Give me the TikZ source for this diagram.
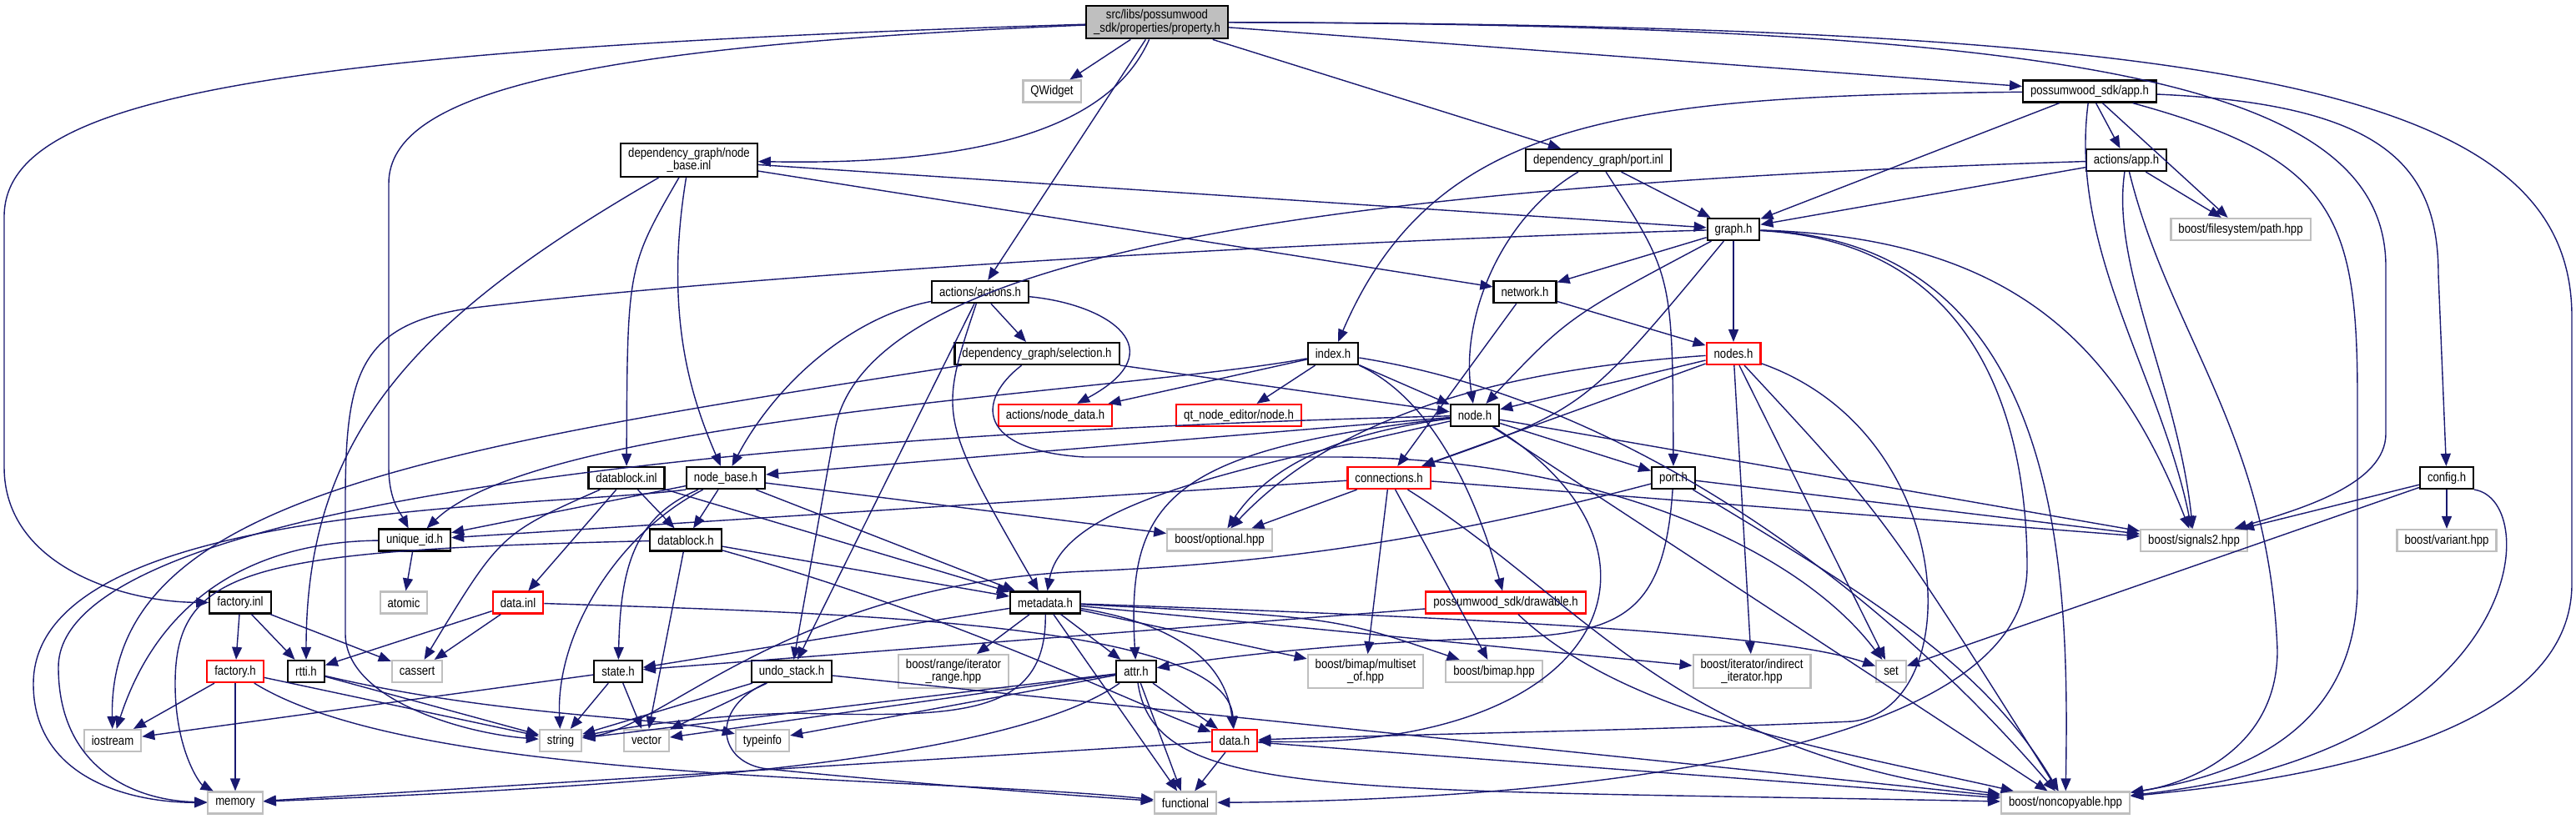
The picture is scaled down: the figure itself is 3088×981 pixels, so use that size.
\documentclass[tikz,border=0pt]{standalone}
\usepackage{fontspec}
\newfontfamily\dxfont[FakeStretch=0.85]{Liberation Sans}
\usetikzlibrary{arrows.meta}
\definecolor{dxBlue}{HTML}{191970}
\definecolor{dxGray}{HTML}{BFBFBF}
\definecolor{dxRed}{HTML}{FF0000}

\begin{document}
\begin{tikzpicture}[x=0.01cm, y=0.01cm,
    hdr/.style={draw=black, line width=0.022cm, fill=white, minimum height=0.26cm,
      inner xsep=0.09cm, inner ysep=0.05cm, align=center,
      font={\dxfont\fontsize{4.4pt}{4.3pt}\selectfont}},
    sys/.style={hdr, draw=dxGray},
    cut/.style={hdr, draw=dxRed},
    rootnode/.style={hdr, fill=dxGray},
    dep/.style={draw=dxBlue, line width=0.014cm, -{Triangle[length=0.15cm, width=0.12cm]}}]
  \useasboundingbox (0,0) rectangle (3088,-981);

  % headers, top to bottom
  \node[rootnode] (property) at (1387,-26.5) {src/libs/possumwood\\\_sdk/properties/property.h};
  \node[sys] (qwidget) at (1261,-109.5) {QWidget};
  \node[hdr] (app) at (2505,-109.5) {possumwood\_sdk/app.h};
  \node[hdr] (nbinl) at (826,-192) {dependency\_graph/node\\\_base.inl};
  \node[hdr] (portinl) at (1916,-192) {dependency\_graph/port.inl};
  \node[hdr] (actapp) at (2549,-192) {actions/app.h};
  \node[hdr] (graph) at (2078,-275) {graph.h};
  \node[sys] (fspath) at (2686,-275) {boost/filesystem/path.hpp};
  \node[hdr] (actions) at (1175,-350) {actions/actions.h};
  \node[hdr] (network) at (1828,-350) {network.h};
  \node[hdr] (selection) at (1243,-424) {dependency\_graph/selection.h};
  \node[hdr] (index) at (1598,-424) {index.h};
  \node[cut] (nodes) at (2078,-424) {nodes.h};
  \node[cut] (nodedata) at (1265,-498) {actions/node\_data.h};
  \node[cut] (qtnode) at (1485,-498) {qt\_node\_editor/node.h};
  \node[hdr] (node) at (1768,-498) {node.h};
  \node[hdr] (dbinl) at (751,-573) {datablock.inl};
  \node[hdr] (nodebase) at (870,-573) {node\_base.h};
  \node[cut] (connections) at (1665,-573) {connections.h};
  \node[hdr] (port) at (2006,-573) {port.h};
  \node[hdr] (config) at (2933,-573) {config.h};
  \node[hdr] (uniqueid) at (497,-647.5) {unique\_id.h};
  \node[hdr] (datablock) at (822,-647.5) {datablock.h};
  \node[sys] (optional) at (1462,-647.5) {boost/optional.hpp};
  \node[sys] (signals) at (2630,-648) {boost/signals2.hpp};
  \node[sys] (variant) at (2933,-648) {boost/variant.hpp};
  \node[hdr] (factoryinl) at (288,-722.5) {factory.inl};
  \node[sys] (atomic) at (484,-722.5) {atomic};
  \node[cut] (datainl) at (621,-722.5) {data.inl};
  \node[hdr] (metadata) at (1253,-722.5) {metadata.h};
  \node[cut] (drawable) at (1805,-722.5) {possumwood\_sdk/drawable.h};
  \node[cut] (factory) at (282,-805) {factory.h};
  \node[hdr] (rtti) at (367,-805) {rtti.h};
  \node[sys] (cassert) at (500,-805) {cassert};
  \node[hdr] (state) at (741,-805) {state.h};
  \node[hdr] (undo) at (949,-805) {undo\_stack.h};
  \node[sys] (range) at (1143,-805) {boost/range/iterator\\\_range.hpp};
  \node[hdr] (attr) at (1362,-805) {attr.h};
  \node[sys] (multiset) at (1637,-805) {boost/bimap/multiset\\\_of.hpp};
  \node[sys] (bimap) at (1791,-805) {boost/bimap.hpp};
  \node[sys] (indirect) at (2100,-805) {boost/iterator/indirect\\\_iterator.hpp};
  \node[sys] (set) at (2267,-805) {set};
  \node[sys] (iostream) at (135,-888) {iostream};
  \node[sys] (string) at (672,-888) {string};
  \node[sys] (vector) at (775,-888) {vector};
  \node[sys] (typeinfo) at (914,-888) {typeinfo};
  \node[cut] (datah) at (1480,-888) {data.h};
  \node[sys] (memory) at (282,-962.5) {memory};
  \node[sys] (functional) at (1421,-962.5) {functional};
  \node[sys] (noncopyable) at (2476,-962.5) {boost/noncopyable.hpp};

  % straight includes
  \foreach \dst in {qwidget,portinl,app,actions} \draw[dep] (property) -- (\dst);
  \foreach \dst in {graph,actapp,fspath} \draw[dep] (app) -- (\dst);
  \foreach \dst in {graph,fspath} \draw[dep] (actapp) -- (\dst);
  \foreach \dst in {graph,network} \draw[dep] (nbinl) -- (\dst);
  \draw[dep] (portinl) -- (graph);
  \foreach \dst in {network,nodes} \draw[dep] (graph) -- (\dst);
  \foreach \dst in {nodes,connections} \draw[dep] (network) -- (\dst);
  \foreach \dst in {nodedata,qtnode,node} \draw[dep] (index) -- (\dst);
  \foreach \dst in {selection,undo} \draw[dep] (actions) -- (\dst);
  \draw[dep] (selection) -- (node);
  \foreach \dst in {node,connections,indirect,set} \draw[dep] (nodes) -- (\dst);
  \foreach \dst in {nodebase,port,signals,noncopyable} \draw[dep] (node) -- (\dst);
  \foreach \dst in {uniqueid,datablock,optional,metadata} \draw[dep] (nodebase) -- (\dst);
  \foreach \dst in {datablock,datainl,metadata} \draw[dep] (dbinl) -- (\dst);
  \foreach \dst in {uniqueid,optional,multiset,bimap,signals} \draw[dep] (connections) -- (\dst);
  \draw[dep] (port) -- (signals);
  \foreach \dst in {signals,variant,set} \draw[dep] (config) -- (\dst);
  \draw[dep] (uniqueid) -- (atomic);
  \foreach \dst in {metadata,vector} \draw[dep] (datablock) -- (\dst);
  \foreach \dst in {factory,rtti,cassert} \draw[dep] (factoryinl) -- (\dst);
  \foreach \dst in {rtti,cassert} \draw[dep] (datainl) -- (\dst);
  \foreach \dst in {range,attr,multiset,indirect,functional,state} \draw[dep] (metadata) -- (\dst);
  \draw[dep] (drawable) -- (state);
  \foreach \dst in {iostream,memory,string} \draw[dep] (factory) -- (\dst);
  \draw[dep] (rtti) -- (string);
  \foreach \dst in {iostream,string,vector} \draw[dep] (state) -- (\dst);
  \foreach \dst in {string,vector,noncopyable} \draw[dep] (undo) -- (\dst);
  \foreach \dst in {datah,functional,string,vector,typeinfo} \draw[dep] (attr) -- (\dst);
  \foreach \dst in {memory,functional,noncopyable} \draw[dep] (datah) -- (\dst);

  % curved includes
  \draw[dep] (property) .. controls (1345,-120) and (1250,-200) .. (nbinl);
  \draw[dep] (property) .. controls (700,-55) and (466,-110) .. (466,-220) -- (466,-560) .. controls (466,-600) and (480,-615) .. (uniqueid);
  \draw[dep] (property) .. controls (300,-60) and (5,-120) .. (5,-260) -- (5,-560) .. controls (5,-680) and (150,-722) .. (factoryinl);
  \draw[dep] (property) .. controls (2500,-30) and (2860,-100) .. (2860,-320) -- (2860,-520) .. controls (2860,-580) and (2760,-610) .. (signals);
  \draw[dep] (property) .. controls (2700,-30) and (3083,-110) .. (3083,-380) -- (3083,-700) .. controls (3083,-900) and (2700,-940) .. (noncopyable);
  \draw[dep] (app) .. controls (1950,-115) and (1720,-140) .. (index);
  \draw[dep] (app) .. controls (2480,-300) and (2590,-450) .. (signals);
  \draw[dep] (app) .. controls (2800,-190) and (2826,-260) .. (2826,-480) -- (2826,-700) .. controls (2826,-880) and (2680,-930) .. (noncopyable);
  \draw[dep] (app) .. controls (2860,-125) and (2923,-200) .. (2923,-330) -- (config);
  \draw[dep] (actapp) .. controls (1500,-225) and (1030,-320) .. (1000,-520) -- (undo);
  \draw[dep] (actapp) .. controls (2530,-320) and (2610,-460) .. (signals);
  \draw[dep] (actapp) .. controls (2600,-400) and (2720,-520) .. (2730,-780) .. controls (2730,-900) and (2620,-940) .. (noncopyable);
  \draw[dep] (nbinl) .. controls (795,-380) and (830,-480) .. (nodebase);
  \draw[dep] (nbinl) .. controls (752,-320) .. (dbinl);
  \draw[dep] (nbinl) .. controls (500,-380) and (367,-520) .. (rtti);
  \draw[dep] (portinl) .. controls (1800,-260) and (1750,-380) .. (node);
  \draw[dep] (portinl) .. controls (2005,-330) .. (port);
  \draw[dep] (graph) .. controls (1880,-380) .. (node);
  \draw[dep] (graph) .. controls (1900,-490) .. (connections);
  \draw[dep] (graph) .. controls (2420,-285) and (2540,-420) .. (signals);
  \draw[dep] (graph) .. controls (2480,-290) and (2480,-700) .. (noncopyable);
  \draw[dep] (graph) .. controls (2380,-290) and (2430,-520) .. (2430,-680) .. controls (2430,-920) and (1800,-960) .. (functional);
  \draw[dep] (graph) .. controls (1400,-295) and (800,-340) .. (560,-370) .. controls (430,-390) and (414,-450) .. (414,-600) -- (414,-760) .. controls (414,-840) and (560,-880) .. (string);
  \draw[dep] (index) .. controls (1700,-470) and (1760,-560) .. (drawable);
  \draw[dep] (index) .. controls (1350,-470) and (650,-500) .. (uniqueid);
  \draw[dep] (index) .. controls (1950,-480) and (2250,-700) .. (noncopyable);
  \draw[dep] (actions) .. controls (1330,-365) and (1410,-420) .. (nodedata);
  \draw[dep] (actions) .. controls (1020,-380) and (930,-460) .. (nodebase);
  \draw[dep] (actions) .. controls (1125,-500) .. (metadata);
  \draw[dep] (selection) .. controls (500,-540) and (130,-600) .. (iostream);
  \draw[dep] (selection) .. controls (1170,-480) and (1170,-540) .. (1300,-548) -- (1600,-548) .. controls (1900,-548) and (2150,-650) .. (set);
  \draw[dep] (nodes) .. controls (1850,-440) and (1620,-480) .. (optional);
  \draw[dep] (nodes) .. controls (2350,-520) and (2360,-850) .. (2220,-865) .. controls (2000,-875) and (1700,-880) .. (datah);
  \draw[dep] (nodes) .. controls (2260,-620) .. (noncopyable);
  \draw[dep] (node) .. controls (1600,-520) and (1520,-560) .. (optional);
  \draw[dep] (node) .. controls (1500,-560) and (1275,-600) .. (metadata);
  \draw[dep] (node) .. controls (1400,-540) and (1350,-600) .. (attr);
  \draw[dep] (node) .. controls (2030,-660) and (1930,-900) .. (datah);
  \draw[dep] (node) .. controls (900,-520) and (70,-600) .. (70,-800) .. controls (70,-920) and (160,-960) .. (memory);
  \draw[dep] (nodebase) .. controls (740,-640) and (666,-760) .. (string);
  \draw[dep] (nodebase) .. controls (760,-620) and (744,-680) .. (state);
  \draw[dep] (nodebase.south west) .. controls (650,-610) and (40,-600) .. (40,-820) .. controls (40,-930) and (150,-962) .. (memory);
  \draw[dep] (connections) .. controls (1900,-720) and (2000,-900) .. (noncopyable);
  \draw[dep] (port) .. controls (2250,-720) and (2380,-800) .. (noncopyable);
  \draw[dep] (port) .. controls (1995,-740) and (1940,-760) .. (1800,-765) .. controls (1600,-770) and (1450,-790) .. (attr);
  \draw[dep] (port) .. controls (1750,-640) and (1550,-675) .. (1300,-685) .. controls (950,-700) and (800,-870) .. (string);
  \draw[dep] (config.south east) .. controls (3050,-600) and (3030,-900) .. (noncopyable);
  \draw[dep] (uniqueid) .. controls (300,-650) and (190,-720) .. (iostream);
  \draw[dep] (datablock) .. controls (300,-660) and (210,-680) .. (210,-820) .. controls (210,-900) and (240,-940) .. (memory);
  \draw[dep] (datablock) .. controls (1150,-740) and (1350,-840) .. (datah);
  \draw[dep] (dbinl) .. controls (600,-640) .. (cassert);
  \draw[dep] (datainl) .. controls (1000,-735) and (1470,-745) .. (datah);
  \draw[dep] (metadata) .. controls (1420,-750) and (1470,-800) .. (datah);
  \draw[dep] (metadata) .. controls (1600,-740) .. (bimap);
  \draw[dep] (metadata) .. controls (1900,-745) and (2150,-765) .. (set);
  \draw[dep] (metadata) .. controls (1255,-860) and (1150,-860) .. (950,-855) .. controls (850,-858) and (760,-870) .. (string);
  \draw[dep] (drawable) .. controls (1950,-860) and (2200,-900) .. (noncopyable);
  \draw[dep] (factory) .. controls (500,-940) and (1100,-930) .. (functional);
  \draw[dep] (rtti) .. controls (600,-860) and (800,-860) .. (typeinfo);
  \draw[dep] (undo) .. controls (850,-850) and (860,-915) .. (920,-922) .. controls (1100,-940) and (1300,-955) .. (functional);
  \draw[dep] (attr) .. controls (1200,-920) and (700,-945) .. (memory);
  \draw[dep] (attr) .. controls (1385,-960) and (1600,-945) .. (noncopyable);
\end{tikzpicture}
\end{document}
